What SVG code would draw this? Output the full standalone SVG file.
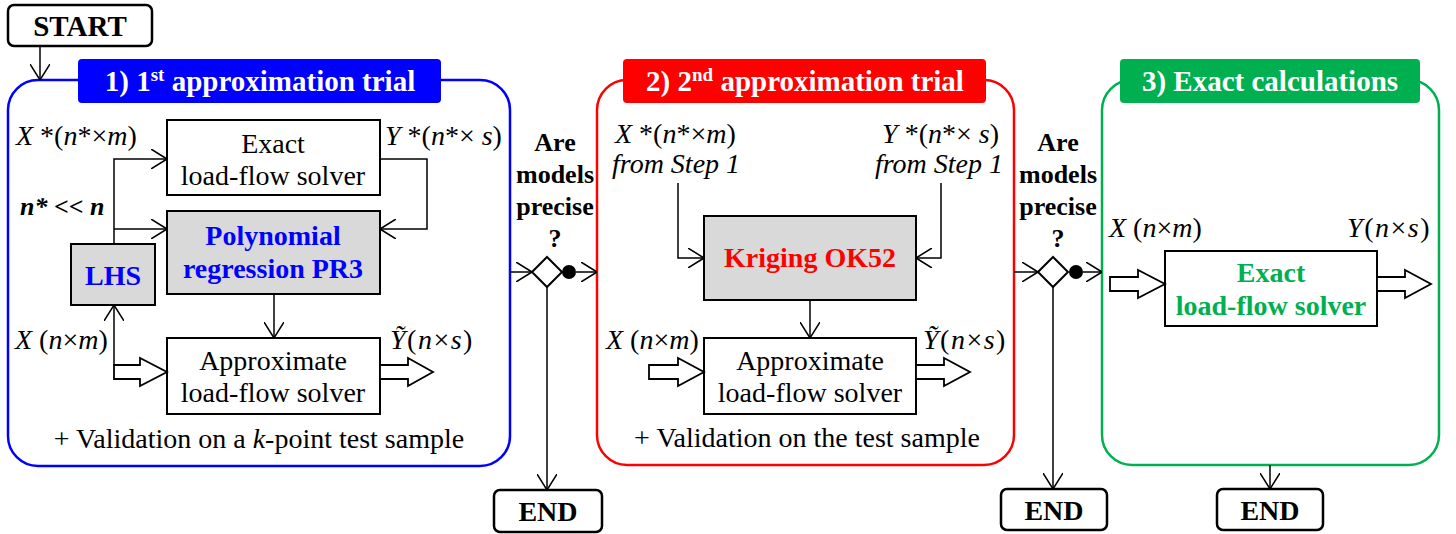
<svg xmlns="http://www.w3.org/2000/svg" width="1456" height="534" viewBox="0 0 1456 534">
<style>
text{font-family:'Liberation Serif','DejaVu Serif',serif}
.t{font-size:28px;fill:#000}
.b{font-weight:bold}
.i{font-style:italic}
.c{text-anchor:middle}
.q{font-size:26px;font-weight:bold;text-anchor:middle}
.blue{fill:#0000ff}
.red{fill:#ff0000}
.green{fill:#00b050}
.ttl{font-size:29px;font-weight:bold;fill:#fff;text-anchor:middle}
.sup{font-size:19px}
.box{fill:#fff;stroke:#000;stroke-width:2}
.gbox{fill:#d9d9d9;stroke:#000;stroke-width:2}
.term{fill:#fff;stroke:#000;stroke-width:2.5}
.ln{fill:none;stroke:#000;stroke-width:1.5}
.fat{fill:#fff;stroke:#000;stroke-width:1.8;stroke-linejoin:miter}
.lbl{font-size:28px;fill:#000}
.sp{letter-spacing:1.5px}
</style>
<defs>
<marker id="a" viewBox="0 0 16 20" refX="16" refY="10" markerWidth="16" markerHeight="20" markerUnits="userSpaceOnUse" orient="auto"><path d="M0,0 L16,10 L0,20" fill="none" stroke="#000" stroke-width="1.5"/></marker>
</defs>

<g id="start"><rect class="term" x="8" y="5" width="144" height="41" rx="6"/><text class="t b c" x="80" y="36" style="font-size:29px">START</text></g>

<g id="stage1">
<rect x="8" y="80" width="502" height="386" rx="30" fill="none" stroke="#0000ff" stroke-width="2.5"/>
<rect x="78" y="59" width="363" height="44" rx="4" fill="#0000ff"/>
<text class="ttl" x="260" y="91">1) 1<tspan class="sup" dy="-10">st</tspan><tspan dy="10"> approximation trial</tspan></text>
<text class="t c" x="259" y="448">+ Validation on a <tspan class="i">k</tspan>-point test sample</text>
</g>
<g id="exact1"><rect class="box" x="167" y="120" width="213" height="75"/><text class="t c" x="273" y="153">Exact</text><text class="t c" x="273" y="185">load-flow solver</text></g>
<g id="poly"><rect class="gbox" x="167" y="211" width="213" height="83"/><text class="t b c blue" x="273" y="245">Polynomial</text><text class="t b c blue" x="273" y="278">regression PR3</text></g>
<g id="lhs"><rect class="gbox" x="71" y="244" width="84" height="61"/><text class="t b c blue" x="113" y="285">LHS</text></g>
<g id="approx1"><rect class="box" x="167" y="338" width="213" height="76"/><text class="t c" x="273" y="370">Approximate</text><text class="t c" x="273" y="402">load-flow solver</text></g>
<g id="labels1">
<text class="lbl" x="16" y="145"><tspan class="i">X</tspan> *(<tspan class="i">n</tspan>*×<tspan class="i">m</tspan>)</text>
<text class="lbl" x="385" y="145"><tspan class="i">Y</tspan> *(<tspan class="i">n</tspan>*× <tspan class="i">s</tspan>)</text>
<text class="b i" x="20" y="215" style="font-size:26px">n* &lt;&lt; n</text>
<text class="lbl" x="15" y="349"><tspan class="i">X</tspan> (<tspan class="i">n</tspan>×<tspan class="i">m</tspan>)</text>
<text class="lbl sp" x="390" y="349"><tspan class="i">Ỹ</tspan>(<tspan class="i">n</tspan>×<tspan class="i">s</tspan>)</text>
</g>

<g id="decision1">
<text class="q" x="555" y="151">Are</text>
<text class="q" x="555" y="183">models</text>
<text class="q" x="555" y="215">precise</text>
<text class="q" x="555" y="247">?</text>
<path d="M532,272 L547,257 L562,272 L547,287 Z" fill="#fff" stroke="#000" stroke-width="2"/>
<circle cx="569" cy="272" r="7" fill="#000"/>
</g>
<g id="end1"><rect class="term" x="494" y="490" width="108" height="42" rx="6"/><text class="t b c" x="548" y="521">END</text></g>

<g id="stage2">
<rect x="597" y="80" width="417" height="385" rx="30" fill="none" stroke="#ff0000" stroke-width="2.5"/>
<rect x="623" y="59" width="363" height="44" rx="4" fill="#ff0000"/>
<text class="ttl" x="805" y="91">2) 2<tspan class="sup" dy="-10">nd</tspan><tspan dy="10"> approximation trial</tspan></text>
<text class="t c" x="807" y="447">+ Validation on the test sample</text>
</g>
<g id="kriging"><rect class="gbox" x="704" y="216" width="212" height="84"/><text class="t b c red" x="810" y="267">Kriging OK52</text></g>
<g id="approx2"><rect class="box" x="704" y="338" width="212" height="76"/><text class="t c" x="810" y="370">Approximate</text><text class="t c" x="810" y="402">load-flow solver</text></g>
<g id="labels2">
<text class="lbl" x="615" y="143"><tspan class="i">X</tspan> *(<tspan class="i">n</tspan>*×<tspan class="i">m</tspan>)</text>
<text class="lbl i" x="612" y="173">from Step 1</text>
<text class="lbl" x="999" y="143" text-anchor="end"><tspan class="i">Y</tspan> *(<tspan class="i">n</tspan>*× <tspan class="i">s</tspan>)</text>
<text class="lbl i" x="1003" y="173" text-anchor="end">from Step 1</text>
<text class="lbl" x="606" y="349"><tspan class="i">X</tspan> (<tspan class="i">n</tspan>×<tspan class="i">m</tspan>)</text>
<text class="lbl sp" x="923" y="349"><tspan class="i">Ỹ</tspan>(<tspan class="i">n</tspan>×<tspan class="i">s</tspan>)</text>
</g>

<g id="decision2">
<text class="q" x="1058" y="151">Are</text>
<text class="q" x="1058" y="183">models</text>
<text class="q" x="1058" y="215">precise</text>
<text class="q" x="1058" y="247">?</text>
<path d="M1038,272 L1053,257 L1068,272 L1053,287 Z" fill="#fff" stroke="#000" stroke-width="2"/>
<circle cx="1076" cy="272" r="7" fill="#000"/>
</g>
<g id="end2"><rect class="term" x="1001" y="489" width="106" height="41" rx="6"/><text class="t b c" x="1054" y="520">END</text></g>

<g id="stage3">
<rect x="1102" y="80" width="337" height="385" rx="30" fill="none" stroke="#00b050" stroke-width="2.5"/>
<rect x="1120" y="59" width="300" height="44" rx="4" fill="#00b050"/>
<text class="ttl" x="1270" y="91">3) Exact calculations</text>
</g>
<g id="exact3"><rect class="box" x="1165" y="251" width="212" height="75"/><text class="t b c green" x="1271" y="282">Exact</text><text class="t b c green" x="1271" y="315">load-flow solver</text></g>
<g id="labels3">
<text class="lbl" x="1109" y="237"><tspan class="i">X</tspan> (<tspan class="i">n</tspan>×<tspan class="i">m</tspan>)</text>
<text class="lbl sp" x="1431" y="237" text-anchor="end"><tspan class="i">Y</tspan>(<tspan class="i">n</tspan>×<tspan class="i">s</tspan>)</text>
</g>
<g id="end3"><rect class="term" x="1217" y="489" width="106" height="41" rx="6"/><text class="t b c" x="1270" y="520">END</text></g>

<g id="connectors">
<path class="ln" d="M40,46 V80" marker-end="url(#a)"/>
<path class="ln" d="M114,244 V159 H167" marker-end="url(#a)"/>
<path class="ln" d="M114,229 H167" marker-end="url(#a)"/>
<path class="ln" d="M380,159 H427 V229 H380" marker-end="url(#a)"/>
<path class="ln" d="M274,294 V338" marker-end="url(#a)"/>
<path class="ln" d="M114,365 V305" marker-end="url(#a)"/>
<path class="fat" d="M114,365 H140 V358 L167,372 L140,386 V379 H114 Z"/>
<path class="fat" d="M380,365 H408 V358 L433,372 L408,386 V379 H380 Z"/>
<path class="ln" d="M510,272 H532" marker-end="url(#a)"/>
<path class="ln" d="M576,272 H597" marker-end="url(#a)"/>
<path class="ln" d="M547,287 V490" marker-end="url(#a)"/>
<path class="ln" d="M678,183 V258 H704" marker-end="url(#a)"/>
<path class="ln" d="M941,183 V258 H916" marker-end="url(#a)"/>
<path class="ln" d="M810,300 V338" marker-end="url(#a)"/>
<path class="fat" d="M649,365 H678 V358 L704,372 L678,386 V379 H649 Z"/>
<path class="fat" d="M916,365 H944 V358 L970,372 L944,386 V379 H916 Z"/>
<path class="ln" d="M1014,272 H1038" marker-end="url(#a)"/>
<path class="ln" d="M1083,272 H1102" marker-end="url(#a)"/>
<path class="ln" d="M1053,287 V489" marker-end="url(#a)"/>
<path class="fat" d="M1110,277 H1138 V270 L1165,284 L1138,298 V291 H1110 Z"/>
<path class="fat" d="M1377,277 H1405 V270 L1431,284 L1405,298 V291 H1377 Z"/>
<path class="ln" d="M1270,465 V489" marker-end="url(#a)"/>
</g>
</svg>
